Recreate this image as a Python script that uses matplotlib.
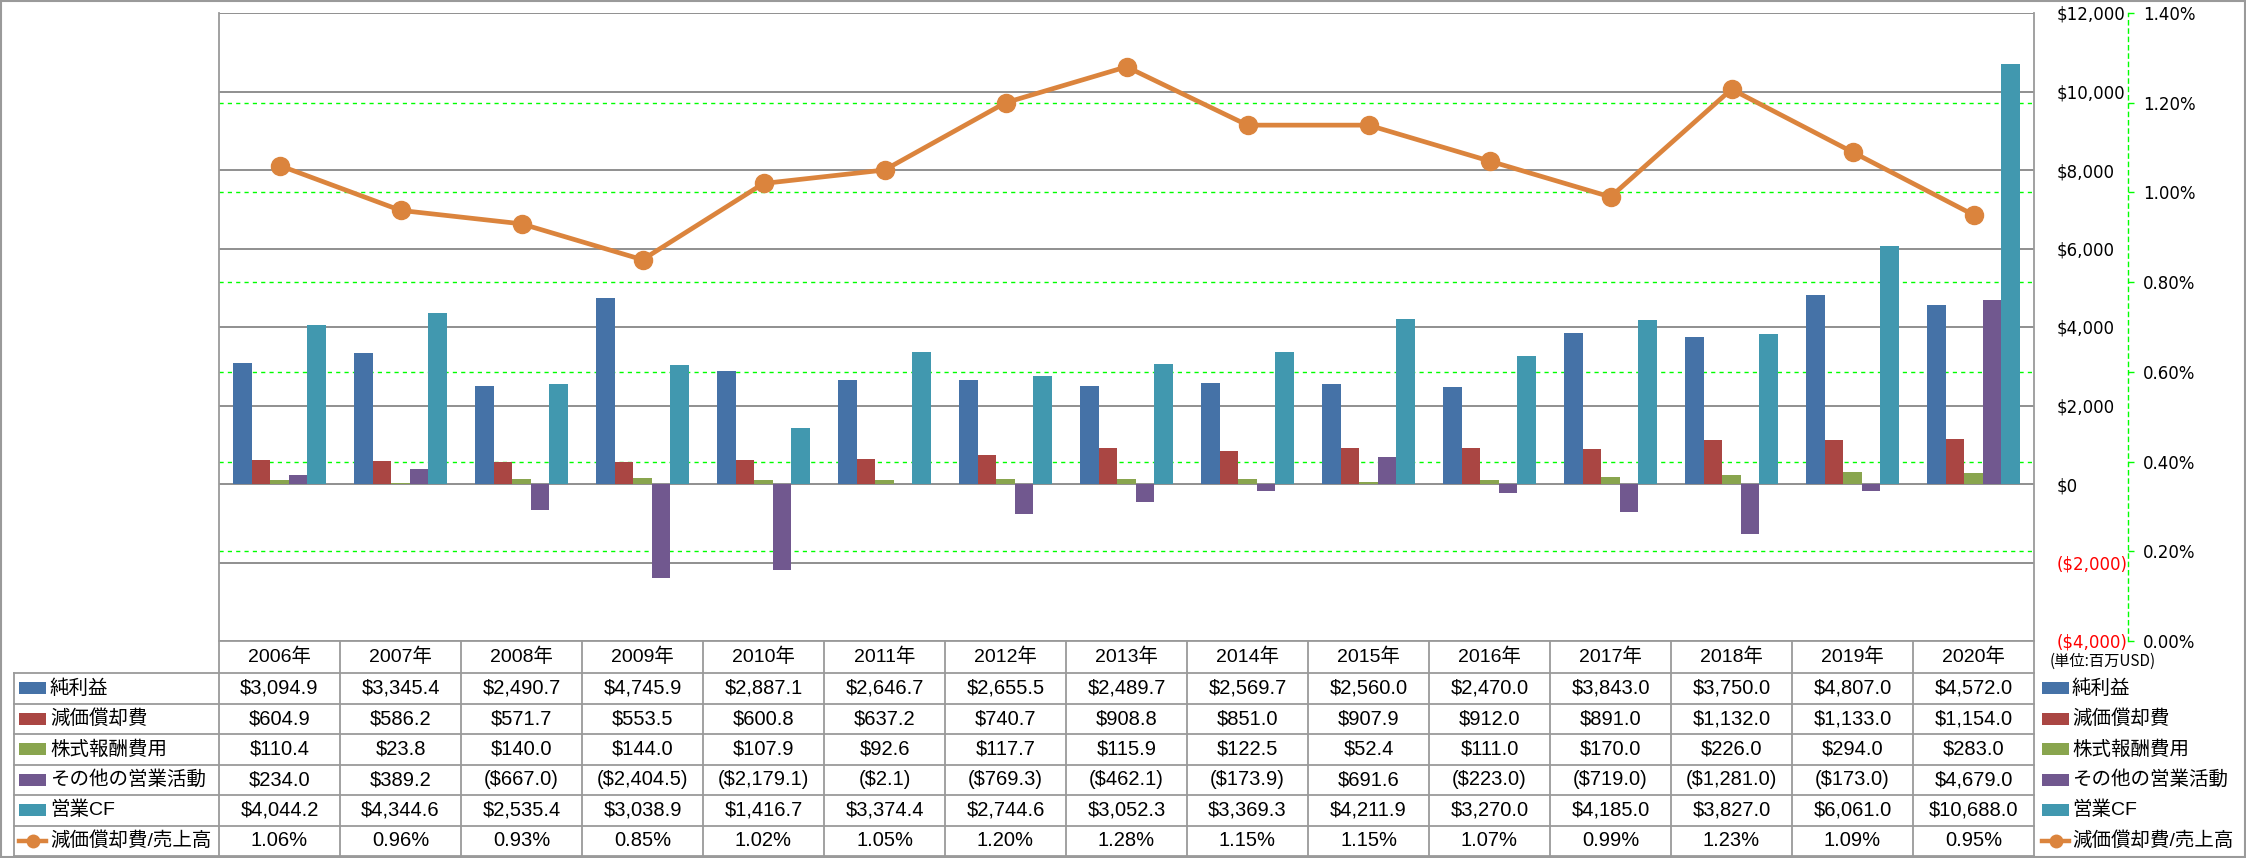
import matplotlib
matplotlib.use('Agg')
import matplotlib.pyplot as plt
from matplotlib import font_manager
from matplotlib.lines import Line2D
from matplotlib.patches import Rectangle
from matplotlib.transforms import blended_transform_factory
import numpy as np

# DATA
years = ['2006年', '2007年', '2008年', '2009年', '2010年', '2011年', '2012年', '2013年',
         '2014年', '2015年', '2016年', '2017年', '2018年', '2019年', '2020年']
series_names = ['純利益', '減価償却費', '株式報酬費用', 'その他の営業活動', '営業CF']
net_income = [3094.9, 3345.4, 2490.7, 4745.9, 2887.1, 2646.7, 2655.5, 2489.7,
              2569.7, 2560.0, 2470.0, 3843.0, 3750.0, 4807.0, 4572.0]
depreciation = [604.9, 586.2, 571.7, 553.5, 600.8, 637.2, 740.7, 908.8,
                851.0, 907.9, 912.0, 891.0, 1132.0, 1133.0, 1154.0]
stock_comp = [110.4, 23.8, 140.0, 144.0, 107.9, 92.6, 117.7, 115.9,
              122.5, 52.4, 111.0, 170.0, 226.0, 294.0, 283.0]
other_ops = [234.0, 389.2, -667.0, -2404.5, -2179.1, -2.1, -769.3, -462.1,
             -173.9, 691.6, -223.0, -719.0, -1281.0, -173.0, 4679.0]
operating_cf = [4044.2, 4344.6, 2535.4, 3038.9, 1416.7, 3374.4, 2744.6, 3052.3,
                3369.3, 4211.9, 3270.0, 4185.0, 3827.0, 6061.0, 10688.0]
ratio_name = '減価償却費/売上高'
dep_ratio = [1.06, 0.96, 0.93, 0.85, 1.02, 1.05, 1.20, 1.28,
             1.15, 1.15, 1.07, 0.99, 1.23, 1.09, 0.95]
usd_ticks = [-4000, -2000, 0, 2000, 4000, 6000, 8000, 10000, 12000]
pct_ticks = [0.0, 0.2, 0.4, 0.6, 0.8, 1.0, 1.2, 1.4]
unit_note = '(単位:百万USD)'

series = [net_income, depreciation, stock_comp, other_ops, operating_cf]
colors = ['#4572A7', '#AA4643', '#89A54E', '#71588F', '#4198AF']
orange = '#DB843D'
grid_gray = '#878787'
line_gray = '#9A9A9A'
green = '#00FF00'

installed = {f.name for f in font_manager.fontManager.ttflist}
narrow = 'Liberation Sans Narrow' if 'Liberation Sans Narrow' in installed else 'Liberation Sans'
TABLE_FONT = [narrow, 'Noto Sans CJK JP']
plt.rcParams['font.family'] = ['DejaVu Sans', 'Noto Sans CJK JP']

W, H = 2246, 858
fig = plt.figure(figsize=(W / 100, H / 100), dpi=100)


def fx(px):
    return px / W


def fy(py):
    return 1 - py / H


# outer border
fig.add_artist(Rectangle((0.0005, 0.001), 0.999, 0.998, transform=fig.transFigure,
                         fill=False, edgecolor=line_gray, lw=1.5))

# MAIN AXES
ax = fig.add_axes([fx(219), fy(641), fx(2034) - fx(219), fy(13) - fy(641)])
ax2 = ax.twinx()

x = np.arange(len(years))
bw = 0.154
for k, (vals, col) in enumerate(zip(series, colors)):
    ax.bar(x + (k - 2) * bw, vals, bw, color=col, zorder=2)

ax.set_xlim(-0.5, len(years) - 0.5)
ax.set_ylim(-4000, 12000)
ax.set_xticks([])
ax.set_yticks(usd_ticks)
ax.grid(axis='y', color=grid_gray, lw=1.3, zorder=0)
ax.set_axisbelow(True)
labels = []
for v in usd_ticks:
    labels.append('(${:,})'.format(-v) if v < 0 else '${:,}'.format(v))
ax.set_yticklabels(labels)
ax.yaxis.tick_right()
ax.tick_params(axis='y', which='both', left=False, labelleft=False, right=False,
               labelright=True, length=0, pad=16.5, labelsize=12)
for lab, v in zip(ax.get_yticklabels(), usd_ticks):
    lab.set_horizontalalignment('left')
    if v < 0:
        lab.set_color('red')
for s in ['top', 'left', 'right']:
    ax.spines[s].set_visible(False)
ax.spines['bottom'].set_color(line_gray)
ax.spines['bottom'].set_linewidth(1.3)

# SECONDARY AXIS
ax2.set_ylim(0, 1.4)
ax2.set_yticks(pct_ticks)
ax2.set_yticklabels(['{:.2f}%'.format(v) for v in pct_ticks])
ax2.tick_params(axis='y', color=green, length=4, width=1, pad=7, labelsize=12)
for s in ['top', 'left', 'bottom']:
    ax2.spines[s].set_visible(False)
ax2.spines['right'].set_position(('axes', (2128 - 219) / (2034 - 219)))
ax2.spines['right'].set_color(green)
ax2.spines['right'].set_linestyle((0, (3, 3)))
ax2.spines['right'].set_linewidth(1)

for v in pct_ticks[1:-1]:
    ax.add_line(Line2D([0, 1], [v, v], transform=ax2.get_yaxis_transform(),
                       color=green, lw=1, ls=(0, (3, 3)), zorder=1))

ax2.plot(x, dep_ratio, color=orange, lw=3.4, marker='o', markersize=13, zorder=3)

# DATA TABLE
trans = blended_transform_factory(ax.transData, fig.transFigure)
top_px, head_px, row_h = 641, 673, 30.5
n_rows = len(series) + 1
bottom_px = head_px + row_h * n_rows

# vertical lines
for i in range(len(years) + 1):
    y_top = fy(13) if i in (0, len(years)) else fy(top_px)
    fig.add_artist(Line2D([i - 0.5, i - 0.5], [y_top, fy(bottom_px)], transform=trans,
                          color=line_gray, lw=1.3))
fig.add_artist(Line2D([fx(14), fx(14)], [fy(head_px), fy(bottom_px)],
                      transform=fig.transFigure, color=line_gray, lw=1.3))
for r in range(n_rows + 1):
    yy = fy(head_px + r * row_h)
    fig.add_artist(Line2D([fx(14), fx(2034)], [yy, yy], transform=fig.transFigure,
                          color=line_gray, lw=1.3))

for i, yr in enumerate(years):
    fig.text(i, fy((top_px + head_px) / 2), yr, transform=trans, ha='center', va='center',
             family=TABLE_FONT, size=14)


def fmt_usd(v):
    return '(${:,.1f})'.format(-v) if v < 0 else '${:,.1f}'.format(v)


row_labels = series_names + [ratio_name]
row_values = [[fmt_usd(v) for v in vals] for vals in series] + \
             [['{:.2f}%'.format(v) for v in dep_ratio]]


def draw_key(r, x0, yc):
    if r < len(series):
        fig.add_artist(Rectangle((fx(x0), yc - 6 / H), 27 / W, 12 / H,
                                 transform=fig.transFigure, color=colors[r], lw=0))
    else:
        fig.add_artist(Line2D([fx(x0), fx(x0 + 27)], [yc, yc], transform=fig.transFigure,
                              color=orange, lw=3.2))
        fig.add_artist(Line2D([fx(x0 + 13.5)], [yc], transform=fig.transFigure,
                              color=orange, marker='o', markersize=10, markeredgewidth=0))


for r in range(n_rows):
    yc = fy(head_px + (r + 0.5) * row_h)
    draw_key(r, 19, yc)
    fig.text(fx(50), yc, row_labels[r], ha='left', va='center', family=TABLE_FONT, size=14)
    for i, val in enumerate(row_values[r]):
        fig.text(i, yc, val, transform=trans, ha='center', va='center',
                 family=TABLE_FONT, size=14.5)
    # legend on the right
    draw_key(r, 2042, yc)
    fig.text(fx(2072), yc, row_labels[r], ha='left', va='center', family=TABLE_FONT, size=14)

fig.text(fx(2050), fy(661), unit_note, ha='left', va='center',
         family=['Noto Sans CJK JP', 'DejaVu Sans'], size=11)

fig.savefig('out.png', dpi=100)
